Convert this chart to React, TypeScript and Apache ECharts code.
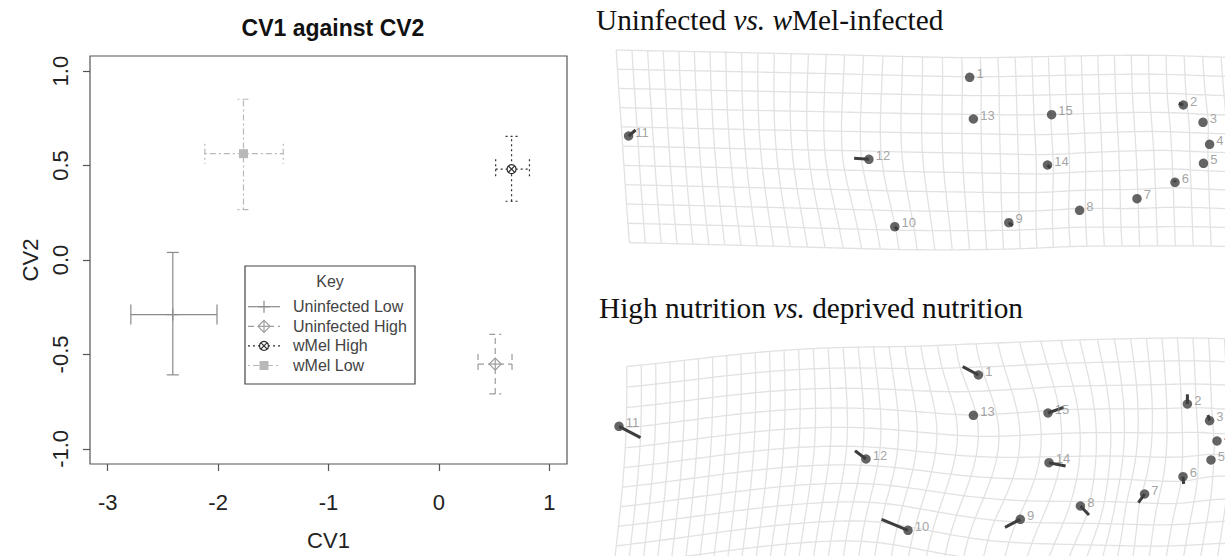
import React, { useEffect, useRef } from "react";
import * as echarts from "echarts";

// ---------- Left panel data: CV1 against CV2 ----------
const groupNames = ["Uninfected Low", "Uninfected High", "wMel High", "wMel Low"];
const cv1Mean = [-2.41, 0.51, 0.658, -1.77];
const cv1Lower = [-2.79, 0.354, 0.514, -2.12];
const cv1Upper = [-2.01, 0.662, 0.82, -1.41];
const cv2Mean = [-0.289, -0.551, 0.481, 0.563];
const cv2Lower = [-0.608, -0.709, 0.311, 0.267];
const cv2Upper = [0.04, -0.394, 0.654, 0.851];
const cv1Ticks = [-3, -2, -1, 0, 1];
const cv2Ticks = [-1, -0.5, 0, 0.5, 1];

// ---------- Right panels: landmarks (x right, y down) ----------
const landmarkIds = [1, 2, 3, 4, 5, 6, 7, 8, 9, 10, 11, 12, 13, 14, 15];
// Uninfected vs. wMel-infected
const infDotX = [3.697, 5.833, 6.03, 6.096, 6.035, 5.75, 5.37, 4.796, 4.088, 2.948, 0.286, 2.689, 3.734, 4.475, 4.516];
const infDotY = [0.373, 0.65, 0.823, 1.043, 1.233, 1.423, 1.587, 1.703, 1.827, 1.867, 0.96, 1.193, 0.79, 1.25, 0.747];
const infEndX = [3.697, 5.788, 6.03, 6.096, 6.035, 5.75, 5.37, 4.796, 4.128, 2.978, 0.356, 2.541, 3.734, 4.505, 4.516];
const infEndY = [0.373, 0.633, 0.823, 1.043, 1.233, 1.403, 1.587, 1.703, 1.857, 1.897, 0.9, 1.183, 0.79, 1.28, 0.747];
// High nutrition vs. deprived nutrition
const nutDotX = [3.784, 5.874, 6.096, 6.17, 6.11, 5.83, 5.446, 4.804, 4.203, 3.08, 0.19, 2.66, 3.734, 4.49, 4.48];
const nutDotY = [0.45, 0.74, 0.907, 1.11, 1.3, 1.467, 1.64, 1.76, 1.893, 2.003, 0.963, 1.29, 0.853, 1.327, 0.83];
const nutEndX = [3.627, 5.874, 6.08, 6.17, 6.11, 5.837, 5.384, 4.89, 4.05, 2.816, 0.405, 2.55, 3.734, 4.656, 4.636];
const nutEndY = [0.367, 0.643, 0.85, 1.11, 1.3, 1.54, 1.727, 1.85, 1.973, 1.893, 1.077, 1.207, 0.853, 1.36, 0.773];

const SANS = "'Liberation Sans', Arial, Helvetica, sans-serif";
const SERIF = "'Liberation Serif', 'Times New Roman', Times, serif";

// ---------- thin-plate spline ----------
function solve(A: number[][], B: number[][]): number[][] {
  const n = A.length;
  const m = B[0].length;
  const M = A.map((row, i) => [...row, ...B[i]]);
  for (let c = 0; c < n; c++) {
    let p = c;
    for (let r = c + 1; r < n; r++) if (Math.abs(M[r][c]) > Math.abs(M[p][c])) p = r;
    const t = M[c]; M[c] = M[p]; M[p] = t;
    for (let r = 0; r < n; r++) {
      if (r === c) continue;
      const f = M[r][c] / M[c][c];
      if (f === 0) continue;
      for (let k = c; k < n + m; k++) M[r][k] -= f * M[c][k];
    }
  }
  return M.map((row, i) => row.slice(n).map((v) => v / M[i][i]));
}

function makeTps(src: number[][], dst: number[][]) {
  const n = src.length;
  const U = (dx: number, dy: number) => {
    const r2 = dx * dx + dy * dy;
    return r2 === 0 ? 0 : r2 * Math.log(r2);
  };
  const L: number[][] = [];
  for (let i = 0; i < n; i++) {
    const row = src.map((q) => U(src[i][0] - q[0], src[i][1] - q[1]));
    row.push(1, src[i][0], src[i][1]);
    L.push(row);
  }
  L.push([...src.map(() => 1), 0, 0, 0]);
  L.push([...src.map((q) => q[0]), 0, 0, 0]);
  L.push([...src.map((q) => q[1]), 0, 0, 0]);
  const B = [...dst.map((q) => [q[0], q[1]]), [0, 0], [0, 0], [0, 0]];
  const W = solve(L, B);
  return (x: number, y: number) => {
    let fx = W[n][0] + W[n + 1][0] * x + W[n + 2][0] * y;
    let fy = W[n][1] + W[n + 1][1] * x + W[n + 2][1] * y;
    for (let i = 0; i < n; i++) {
      const u = U(x - src[i][0], y - src[i][1]);
      fx += W[i][0] * u;
      fy += W[i][1] * u;
    }
    return [fx, fy];
  };
}

function buildGrid(dx: number[], dy: number[], ex: number[], ey: number[], k: number,
  x0: number, y0: number, cw: number, ch: number, nc: number, nr: number) {
  const src = dx.map((x, i) => [x, dy[i]]);
  const dst = dx.map((x, i) => [x + k * (ex[i] - x), dy[i] + k * (ey[i] - dy[i])]);
  const f = makeTps(src, dst);
  const lines: number[][][] = [];
  for (let j = 0; j <= nr; j++) {
    const pts: number[][] = [];
    for (let s = 0; s <= nc * 4; s++) pts.push(f(x0 + (s * cw) / 4, y0 + j * ch));
    lines.push(pts);
  }
  for (let i = 0; i <= nc; i++) {
    const pts: number[][] = [];
    for (let s = 0; s <= nr * 4; s++) pts.push(f(x0 + i * cw, y0 + (s * ch) / 4));
    lines.push(pts);
  }
  return lines;
}

type MarkerKind = "plus" | "diamondPlus" | "circleX" | "square";
const groupStyle: { color: string; dash: number[] | null; marker: MarkerKind }[] = [
  { color: "#8a8a8a", dash: null, marker: "plus" },
  { color: "#9c9c9c", dash: [6, 4], marker: "diamondPlus" },
  { color: "#2e2e2e", dash: [2, 3], marker: "circleX" },
  { color: "#b8b8b8", dash: [2, 3, 6, 3], marker: "square" },
];

function markerEls(kind: MarkerKind, cx: number, cy: number, color: string): any[] {
  const st = { stroke: color, lineWidth: 1.2, fill: "none" };
  if (kind === "plus") {
    return [
      { type: "line", shape: { x1: cx - 6, y1: cy, x2: cx + 6, y2: cy }, style: st },
      { type: "line", shape: { x1: cx, y1: cy - 6, x2: cx, y2: cy + 6 }, style: st },
    ];
  }
  if (kind === "diamondPlus") {
    return [
      { type: "polygon", shape: { points: [[cx, cy - 6], [cx + 6, cy], [cx, cy + 6], [cx - 6, cy]] }, style: { stroke: color, lineWidth: 1.2, fill: "#fff" } },
      { type: "line", shape: { x1: cx - 6, y1: cy, x2: cx + 6, y2: cy }, style: st },
      { type: "line", shape: { x1: cx, y1: cy - 6, x2: cx, y2: cy + 6 }, style: st },
    ];
  }
  if (kind === "circleX") {
    return [
      { type: "circle", shape: { cx, cy, r: 4.5 }, style: { stroke: color, lineWidth: 1.2, fill: "#fff" } },
      { type: "line", shape: { x1: cx - 3.2, y1: cy - 3.2, x2: cx + 3.2, y2: cy + 3.2 }, style: st },
      { type: "line", shape: { x1: cx - 3.2, y1: cy + 3.2, x2: cx + 3.2, y2: cy - 3.2 }, style: st },
    ];
  }
  return [{ type: "rect", shape: { x: cx - 4.5, y: cy - 4.5, width: 9, height: 9 }, style: { fill: color, stroke: "none" } }];
}

export default function App() {
  const ref = useRef<HTMLDivElement>(null);
  useEffect(() => {
    if (!ref.current) return;
    const chart = echarts.init(ref.current, undefined, { renderer: "svg" });

    const infGrid = buildGrid(infDotX, infDotY, infEndX, infEndY, 1, 0.13, 0.18, 0.175, 0.188, 37, 10);
    const nutGrid = buildGrid(nutDotX, nutDotY, nutEndX, nutEndY, 1, 0.02, 0.26, 0.17, 0.197, 38, 11);

    const errSeries = groupNames.map((name, gi) => {
      const gs = groupStyle[gi];
      return {
        type: "custom",
        name,
        xAxisIndex: 0,
        yAxisIndex: 0,
        z: 5,
        data: [[cv1Mean[gi], cv2Mean[gi], cv1Lower[gi], cv1Upper[gi], cv2Lower[gi], cv2Upper[gi]]],
        encode: { x: [0, 2, 3], y: [1, 4, 5] },
        renderItem: (_p: any, api: any) => {
          const c = api.coord([api.value(0), api.value(1)]);
          const xl = api.coord([api.value(2), api.value(1)]);
          const xh = api.coord([api.value(3), api.value(1)]);
          const yl = api.coord([api.value(0), api.value(4)]);
          const yh = api.coord([api.value(0), api.value(5)]);
          const st: any = { stroke: gs.color, lineWidth: 1.2, fill: "none" };
          if (gs.dash) st.lineDash = gs.dash;
          const L = (x1: number, y1: number, x2: number, y2: number) => ({ type: "line", shape: { x1, y1, x2, y2 }, style: st });
          return {
            type: "group",
            children: [
              L(xl[0], xl[1], xh[0], xh[1]),
              L(yl[0], yl[1], yh[0], yh[1]),
              L(xl[0], xl[1] - 10, xl[0], xl[1] + 10),
              L(xh[0], xh[1] - 10, xh[0], xh[1] + 10),
              L(yl[0] - 6, yl[1], yl[0] + 6, yl[1]),
              L(yh[0] - 6, yh[1], yh[0] + 6, yh[1]),
              ...markerEls(gs.marker, c[0], c[1], gs.color),
            ],
          };
        },
      };
    });

    const gridSeries = (lines: number[][][], idx: number) => ({
      type: "custom",
      xAxisIndex: idx,
      yAxisIndex: idx,
      silent: true,
      z: 1,
      data: lines.map((l, i) => [l[0][0], l[0][1], i]),
      encode: { x: 0, y: 1 },
      renderItem: (p: any, api: any) => ({
        type: "polyline",
        shape: { points: lines[p.dataIndex].map((q) => api.coord(q)) },
        style: { stroke: "#e2e2e2", lineWidth: 1.3, fill: "none" },
      }),
    });

    const stickSeries = (dx: number[], dy: number[], ex: number[], ey: number[], idx: number) => ({
      type: "custom",
      xAxisIndex: idx,
      yAxisIndex: idx,
      z: 3,
      data: dx.map((x, i) => [x, dy[i], ex[i], ey[i]]),
      encode: { x: [0, 2], y: [1, 3] },
      renderItem: (_p: any, api: any) => {
        const a = api.coord([api.value(0), api.value(1)]);
        const b = api.coord([api.value(2), api.value(3)]);
        return { type: "line", shape: { x1: a[0], y1: a[1], x2: b[0], y2: b[1] }, style: { stroke: "#3d3d3d", lineWidth: 3 } };
      },
    });

    const dotSeries = (dx: number[], dy: number[], idx: number) => ({
      type: "scatter",
      xAxisIndex: idx,
      yAxisIndex: idx,
      z: 4,
      symbolSize: 9.5,
      itemStyle: { color: "#3d3d3d" },
      data: landmarkIds.map((id, i) => [dx[i], dy[i], id]),
      label: {
        show: true,
        position: "right",
        distance: 2,
        offset: [0, -4],
        formatter: (p: any) => String(p.value[2]),
        color: "#8c8c8c",
        fontSize: 13,
        fontFamily: SANS,
      },
    });

    const hidden = { show: false };
    const legendRows = groupNames.map((name, gi) => {
      const gs = groupStyle[gi];
      const y = 306.7 + gi * 19.6;
      const st: any = { stroke: gs.color, lineWidth: 1.2 };
      if (gs.dash) st.lineDash = gs.dash;
      return {
        type: "group",
        children: [
          { type: "line", shape: { x1: 248, y1: y, x2: 280, y2: y }, style: st },
          ...markerEls(gs.marker, 264, y, gs.color),
          { type: "text", x: 293, y, style: { text: name, fontSize: 16, fontFamily: SANS, fill: "#444", align: "left", verticalAlign: "middle" } },
        ],
      };
    });

    const serifRich = {
      n: { fontSize: 29.3, fontFamily: SERIF, fontWeight: "normal", color: "#111" },
      i: { fontSize: 29.3, fontFamily: SERIF, fontWeight: "normal", fontStyle: "italic", color: "#111" },
    };

    chart.setOption({
      animation: false,
      backgroundColor: "#fff",
      title: [
        {
          text: "CV1 against CV2",
          left: 328,
          top: 11,
          textAlign: "center",
          textStyle: { fontSize: 23, fontWeight: "bold", fontFamily: SANS, color: "#111" },
        },
        {
          text: "{n|Uninfected }{i|vs.}{n| }{i|w}{n|Mel-infected}",
          left: 591,
          top: 0,
          textStyle: { fontWeight: "normal", rich: serifRich },
        },
        {
          text: "{n|High nutrition }{i|vs.}{n| deprived nutrition}",
          left: 594,
          top: 288,
          textStyle: { fontWeight: "normal", rich: serifRich },
        },
      ],
      grid: [
        { left: 90, top: 56, width: 477, height: 419, show: true, borderColor: "#555", borderWidth: 1.2, backgroundColor: "transparent" },
        { left: 600, top: 40, width: 625, height: 220 },
        { left: 600, top: 330, width: 625, height: 226 },
      ],
      xAxis: [
        {
          gridIndex: 0,
          type: "value",
          min: -3.16,
          max: 1.16,
          position: "bottom",
          axisLine: { show: false, onZero: false },
          splitLine: { show: false },
          axisTick: { show: true, customValues: cv1Ticks, length: 7, lineStyle: { color: "#555", width: 1.2 } },
          axisLabel: { customValues: cv1Ticks, fontSize: 22, fontFamily: SANS, color: "#222", margin: 27 },
          name: "CV1",
          nameLocation: "middle",
          nameGap: 65,
          nameTextStyle: { fontSize: 22, fontFamily: SANS, color: "#222" },
        },
        { gridIndex: 1, type: "value", min: 0, max: 6.25, ...hidden },
        { gridIndex: 2, type: "value", min: 0, max: 6.25, ...hidden },
      ],
      yAxis: [
        {
          gridIndex: 0,
          type: "value",
          min: -1.08,
          max: 1.08,
          position: "left",
          axisLine: { show: false, onZero: false },
          splitLine: { show: false },
          axisTick: { show: true, customValues: cv2Ticks, length: 7, lineStyle: { color: "#555", width: 1.2 } },
          axisLabel: {
            customValues: cv2Ticks,
            rotate: 90,
            fontSize: 22,
            fontFamily: SANS,
            color: "#222",
            margin: 19,
            formatter: (v: number) => v.toFixed(1),
          },
          name: "CV2",
          nameLocation: "middle",
          nameRotate: 90,
          nameGap: 49,
          nameTextStyle: { fontSize: 22, fontFamily: SANS, color: "#222" },
        },
        { gridIndex: 1, type: "value", min: 0, max: 2.2, inverse: true, ...hidden },
        { gridIndex: 2, type: "value", min: 0, max: 2.26, inverse: true, ...hidden },
      ],
      graphic: [
        {
          type: "group",
          z: 100,
          children: [
            { type: "rect", shape: { x: 245, y: 266, width: 170, height: 118 }, style: { fill: "#fff", stroke: "#444", lineWidth: 1.2 } },
            { type: "text", x: 330, y: 281.5, style: { text: "Key", fontSize: 16, fontFamily: SANS, fill: "#444", align: "center", verticalAlign: "middle" } },
            ...legendRows,
          ],
        },
      ],
      series: [
        ...errSeries,
        gridSeries(infGrid, 1),
        stickSeries(infDotX, infDotY, infEndX, infEndY, 1),
        dotSeries(infDotX, infDotY, 1),
        gridSeries(nutGrid, 2),
        stickSeries(nutDotX, nutDotY, nutEndX, nutEndY, 2),
        dotSeries(nutDotX, nutDotY, 2),
      ],
    });
    return () => chart.dispose();
  }, []);
  return <div ref={ref} style={{ position: "fixed", left: 0, top: 0, width: 1225, height: 556 }} />;
}
